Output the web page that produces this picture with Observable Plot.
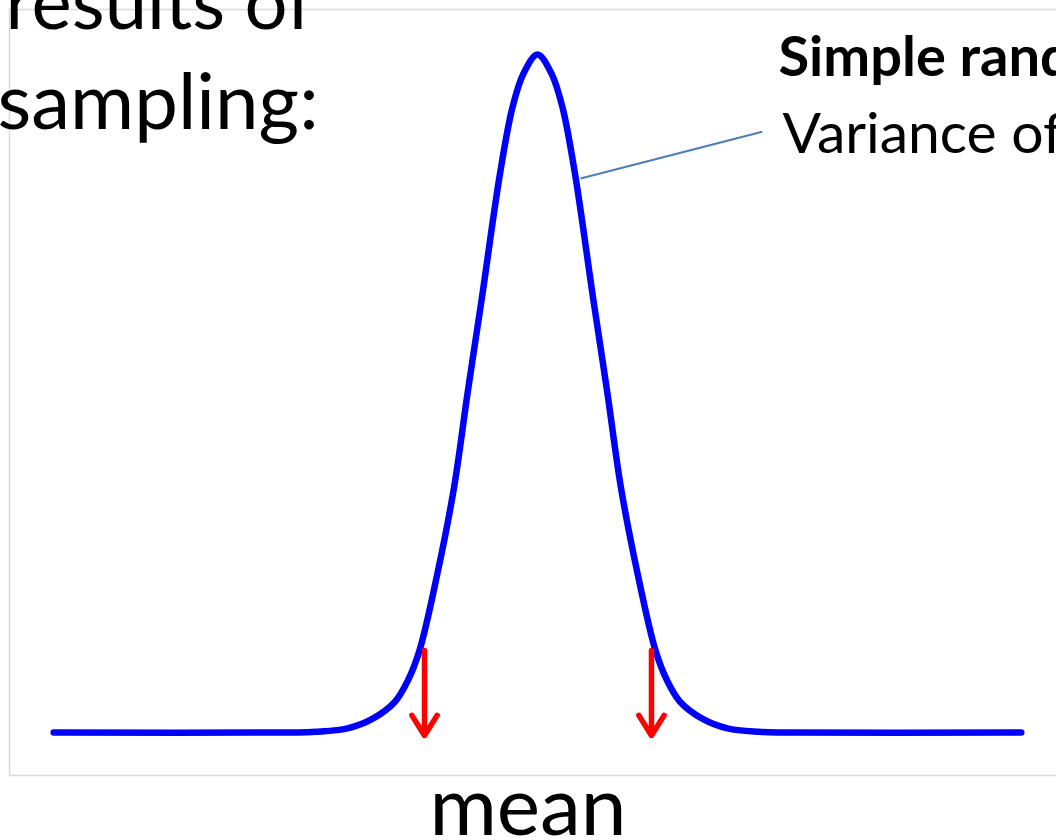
<!DOCTYPE html>
<html>
<head>
<meta charset="utf-8">
<script src="https://cdn.jsdelivr.net/npm/d3@7"></script>
<script src="https://cdn.jsdelivr.net/npm/@observablehq/plot@0.6"></script>
<style>
  html, body { margin: 0; padding: 0; background: #fff; overflow: hidden; }
  #chart svg { overflow: hidden; display: block; }
</style>
</head>
<body>
<div id="chart"></div>
<script>
// Sampling distribution of the mean: distance from the mean (in SD units)
const curveX = [-8.2, -4.15, -3.76, -3.22, -2.80, -2.42, -2.195, -2.0, -1.695, -1.415, -1.186, -0.949, -0.636, -0.424, -0.237, 0,
                0.237, 0.424, 0.636, 0.949, 1.186, 1.415, 1.695, 2.0, 2.195, 2.42, 2.80, 3.22, 3.76, 4.15, 8.2];
// relative height of the distribution (peak = 1)
const curveY = [0, 0, 0.001, 0.006, 0.020, 0.045, 0.077, 0.121, 0.235, 0.361, 0.500, 0.637, 0.824, 0.922, 0.972, 1.0,
                0.972, 0.922, 0.824, 0.637, 0.500, 0.361, 0.235, 0.121, 0.077, 0.045, 0.020, 0.006, 0.001, 0, 0];

// cut-off points marked with arrows
const cutoffX = [-1.915, 1.932];
const cutoffTop = 0.121;

// callout linking the curve to its description
const calloutFrom = {x: 0.729, y: 0.817};
const calloutTo = {x: 3.81, y: 0.886};

const leftLines = ["results of", "sampling:"];
const rightTitle = "Simple random sampling";
const rightLine = "Variance of the mean";
const axisName = "mean";

const curve = curveX.map((x, i) => ({x, y: curveY[i]}));
const arrows = cutoffX.map(x => ({x, y1: cutoffTop, y2: -0.0045}));

const font = "Lato, 'Open Sans', sans-serif";
const label = (text, opts) => Plot.text([text], {text: d => d, textAnchor: "start",
  lineAnchor: "bottom", fill: "#000", ...opts});

const chart = Plot.plot({
  width: 1056,
  height: 840,
  marginLeft: 9,
  marginTop: 9,
  marginBottom: 65,
  marginRight: -20,
  style: {fontFamily: font, background: "#fff", color: "#000"},
  x: {domain: [-8.949, 9.136], axis: null},
  y: {domain: [-0.0634, 1.0664], axis: null},
  marks: [
    Plot.frame({stroke: "#d6dbdb", strokeWidth: 1.5}),
    Plot.link([{x1: calloutFrom.x, y1: calloutFrom.y, x2: calloutTo.x, y2: calloutTo.y}],
      {x1: "x1", y1: "y1", x2: "x2", y2: "y2", stroke: "#4a7ebb", strokeWidth: 2}),
    Plot.line(curve, {x: "x", y: "y", stroke: "#0000ff", strokeWidth: 6.5,
      curve: "catmull-rom", strokeLinecap: "round", strokeLinejoin: "round"}),
    Plot.arrow(arrows, {x: "x", y1: "y1", y2: "y2", stroke: "#ff0000", strokeWidth: 5.5,
      headLength: 6.5, headAngle: 64}),
    label(leftLines[0], {frameAnchor: "top-left", dx: -4, dy: 19, fontSize: 76}),
    label(leftLines[1], {frameAnchor: "top-left", dx: -12, dy: 119, fontSize: 78}),
    label(rightTitle, {frameAnchor: "top-left", dx: 769, dy: 66, fontSize: 56, fontWeight: "bold"}),
    label(rightLine, {frameAnchor: "top-left", dx: 773, dy: 143, fontSize: 57}),
    label(axisName, {frameAnchor: "bottom", textAnchor: "middle", dx: -15, dy: 59, fontSize: 82})
  ]
});
document.getElementById("chart").appendChild(chart);
</script>
</body>
</html>
